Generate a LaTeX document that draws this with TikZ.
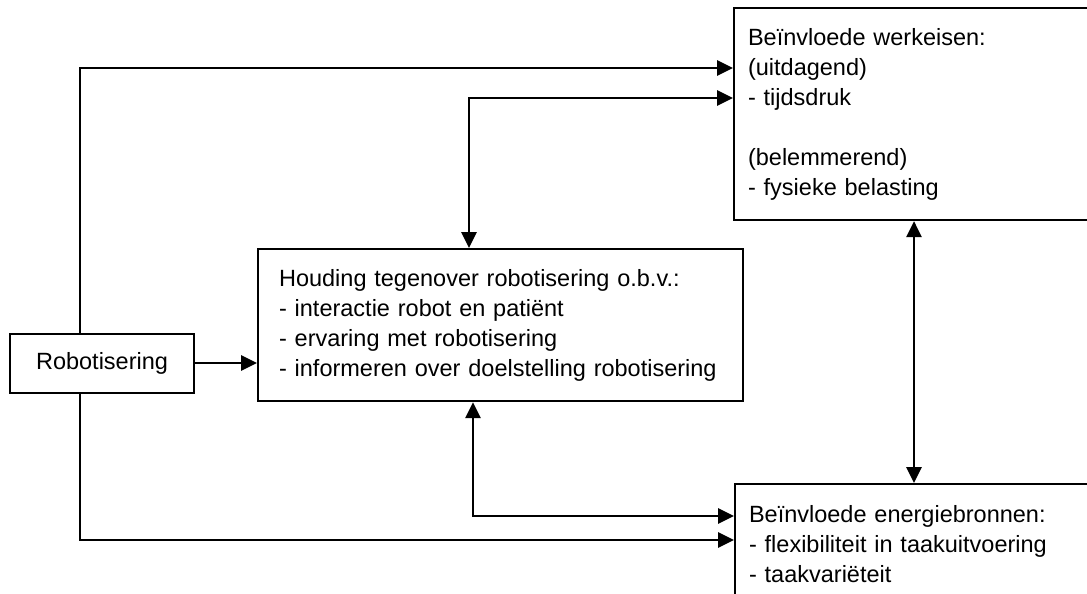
\documentclass[tikz,border=0pt]{standalone}
\usepackage{fontspec}
\setmainfont{Liberation Sans}
\usetikzlibrary{arrows.meta}
\begin{document}
\begin{tikzpicture}[x=1pt,y=-1pt,
  box/.style={draw=black, line width=2.1pt, rectangle, inner sep=0pt,
    font=\fontsize{23.5}{30}\selectfont},
  txtbox/.style={box, align=left, inner xsep=14pt, anchor=north west},
  arr/.style={line width=2.8pt, -{Triangle[length=16pt,width=15pt]}},
  darr/.style={line width=2.8pt, {Triangle[length=16pt,width=15pt]}-{Triangle[length=16pt,width=15pt]}}
]
\useasboundingbox (0,0) rectangle (1087,594);
\clip (0,0) rectangle (1087,594);
\fill[white] (0,0) rectangle (1087,594);

% boxes
\node[box, minimum width=184pt, minimum height=59pt, anchor=north west] (rob) at (9,333) {Robotisering};
\node[txtbox, inner xsep=21pt, text width=443pt, minimum height=152pt] (houd) at (257,248)
  {Houding tegenover robotisering o.b.v.:\\
   - interactie robot en patiënt\\
   - ervaring met robotisering\\
   - informeren over doelstelling robotisering};
\node[txtbox, text width=352pt, minimum height=212pt] (werk) at (733,7)
  {Beïnvloede werkeisen:\\
   (uitdagend)\\
   - tijdsdruk\\
   \mbox{}\\
   (belemmerend)\\
   - fysieke belasting};
\node[txtbox, text width=352pt, minimum height=120pt] (ener) at (734,483)
  {Beïnvloede energiebronnen:\\
   - flexibiliteit in taakuitvoering\\
   - taakvariëteit};

% helper positions
\coordinate (yA) at (0,68);
\coordinate (yB) at (0,98);
\coordinate (yC) at (0,516);
\coordinate (yD) at (0,540);
\coordinate (yE) at (0,363);
\coordinate (xR) at (80,0);
\coordinate (xF) at (469,0);
\coordinate (xG) at (473,0);
\coordinate (xH) at (914,0);

% connectors
\draw[arr] (rob.north -| xR) |- (werk.west |- yA);
\draw[arr] (rob.south -| xR) |- (ener.west |- yD);
\draw[arr] (rob.east |- yE) -- (houd.west |- yE);
\draw[darr] (houd.north -| xF) |- (werk.west |- yB);
\draw[darr] (houd.south -| xG) |- (ener.west |- yC);
\draw[darr] (werk.south -| xH) -- (ener.north -| xH);
\end{tikzpicture}
\end{document}
